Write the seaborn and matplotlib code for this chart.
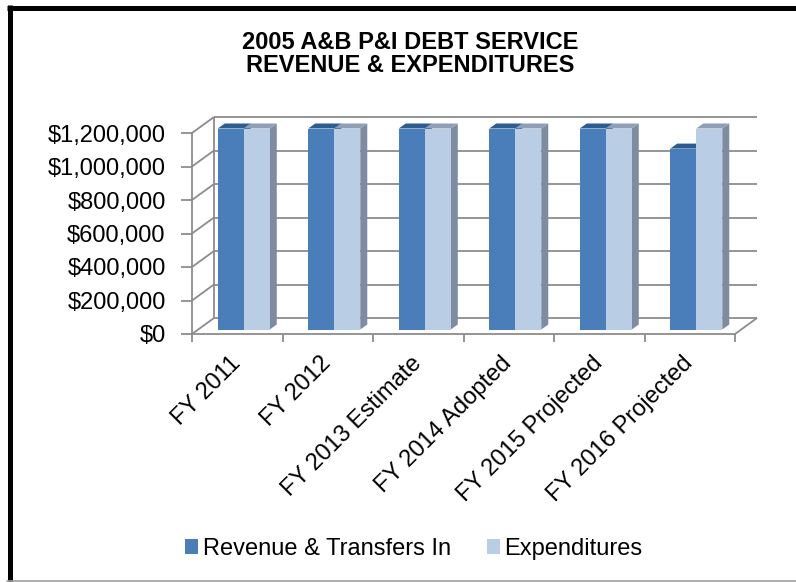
import matplotlib
matplotlib.use("Agg")
import matplotlib.pyplot as plt
import seaborn as sns
import pandas as pd
from matplotlib.patches import Polygon, Patch
from matplotlib.lines import Line2D
from matplotlib.transforms import ScaledTranslation
from matplotlib.ticker import FuncFormatter, FixedLocator

# ---- data -------------------------------------------------------------
years = ["FY 2011", "FY 2012", "FY 2013 Estimate", "FY 2014 Adopted",
         "FY 2015 Projected", "FY 2016 Projected"]
revenue = [1200000, 1200000, 1200000, 1200000, 1200000, 1080000]
expenditures = [1200000, 1200000, 1200000, 1200000, 1200000, 1200000]
series_names = ["Revenue & Transfers In", "Expenditures"]
y_ticks = [0, 200000, 400000, 600000, 800000, 1000000, 1200000]
title = "2005 A&B P&I DEBT SERVICE\nREVENUE & EXPENDITURES"

df = pd.DataFrame({
    "Year": years * 2,
    "Series": [series_names[0]] * len(years) + [series_names[1]] * len(years),
    "Value": revenue + expenditures,
})

# ---- style -------------------------------------------------------------
sns.set_theme(style="white")
plt.rcParams["font.family"] = ["Liberation Sans", "DejaVu Sans"]
plt.rcParams["text.color"] = "black"

front_colors = ["#4A7EBB", "#B9CDE5"]
top_colors = ["#2D5C93", "#8E9FB7"]
side_colors = ["#2F5A8A", "#7D8CA3"]
grid_color = "#8C8C8C"
FS = 17

DPI = 100
fig = plt.figure(figsize=(7.96, 5.82), dpi=DPI)
ax = fig.add_axes([192 / 796, 248 / 582, 543 / 796, 201 / 582])

sns.barplot(data=df, x="Year", y="Value", hue="Series", palette=front_colors,
            width=0.575, saturation=1, ax=ax, legend=False, zorder=3)

ax.set_xlim(-0.5, len(years) - 0.5)
ax.set_ylim(0, y_ticks[-1])
ax.set_xlabel("")
ax.set_ylabel("")
ax.set_facecolor("none")

# pixel -> data conversion for the pseudo-3D geometry
xpp = (len(years)) / ax.bbox.width
ypp = y_ticks[-1] / ax.bbox.height

# back-wall depth offset and bar depth (pixels)
wall_dx, wall_dy = 22, 16
bar_dx, bar_dy = 7, 5
shift = ScaledTranslation(6.5 / DPI, 4.5 / DPI, fig.dpi_scale_trans)
bar_trans = ax.transData + shift

x0, x1 = ax.get_xlim()
wdx, wdy = wall_dx * xpp, wall_dy * ypp

# back wall gridlines, left wall diagonals and floor edges
line_kw = dict(color=grid_color, lw=1.3, zorder=1, clip_on=False,
               solid_capstyle="butt")
for t in y_ticks:
    ax.plot([x0 + wdx, x1 + wdx], [t + wdy, t + wdy], **line_kw)
    ax.plot([x0, x0 + wdx], [t, t + wdy], **line_kw)
ax.plot([x0 + wdx, x0 + wdx], [wdy, y_ticks[-1] + wdy], **line_kw)
ax.plot([x1, x1 + wdx], [0, wdy], **line_kw)

# 3D faces on each bar
bdx, bdy = bar_dx * xpp, bar_dy * ypp
z = 3
for ci, cont in enumerate(ax.containers):
    for bar in cont:
        bx, bw, bh = bar.get_x(), bar.get_width(), bar.get_height()
        bar.set_transform(bar_trans)
        bar.set_clip_on(False)
        bar.set_edgecolor("none")
        bar.set_zorder(z + 2 * ci + 1)
        top = Polygon([(bx, bh), (bx + bw, bh), (bx + bw + bdx, bh + bdy),
                       (bx + bdx, bh + bdy)], closed=True,
                      facecolor=top_colors[ci], edgecolor="none",
                      transform=bar_trans, clip_on=False, zorder=z + 2 * ci + 1)
        side = Polygon([(bx + bw, 0), (bx + bw + bdx, bdy),
                        (bx + bw + bdx, bh + bdy), (bx + bw, bh)], closed=True,
                       facecolor=side_colors[ci], edgecolor="none",
                       transform=bar_trans, clip_on=False, zorder=z + 2 * ci)
        ax.add_patch(side)
        ax.add_patch(top)

# spines: front floor edge and front vertical axis
for s in ["top", "right"]:
    ax.spines[s].set_visible(False)
for s in ["left", "bottom"]:
    ax.spines[s].set_color(grid_color)
    ax.spines[s].set_linewidth(1.3)
    ax.spines[s].set_zorder(2)

# y axis
ax.yaxis.set_major_locator(FixedLocator(y_ticks))
ax.yaxis.set_major_formatter(FuncFormatter(lambda v, p: f"${v:,.0f}"))
ax.tick_params(axis="y", which="major", direction="out", length=8, width=1.3,
               color=grid_color, pad=11, labelsize=FS, labelcolor="black",
               left=True)

# x axis: tick marks on category borders, labels at category centres
ax.xaxis.set_major_locator(FixedLocator([i - 0.5 for i in range(len(years) + 1)]))
ax.xaxis.set_minor_locator(FixedLocator(list(range(len(years)))))
ax.set_xticklabels([""] * (len(years) + 1))
ax.set_xticklabels(years, minor=True, rotation=45, ha="right", va="center",
                   rotation_mode="anchor")
ax.tick_params(axis="x", which="major", direction="out", length=6, width=1.3,
               color=grid_color, bottom=True)
ax.tick_params(axis="x", which="minor", length=0, pad=19, labelsize=FS,
               labelcolor="black", bottom=True)

# title
fig.text(0.515, 0.907, title, ha="center", va="center", fontsize=FS,
         fontweight="bold", linespacing=1.0, color="black")

# legend
handles = [Patch(facecolor=c, edgecolor="none") for c in front_colors]
fig.legend(handles, series_names, loc="center", bbox_to_anchor=(0.52, 0.057),
           ncol=2, frameon=False, fontsize=FS, handlelength=0.55,
           handleheight=0.55, handletextpad=0.2, columnspacing=1.5,
           borderaxespad=0, borderpad=0, labelcolor="black")

# outer frame
fig.add_artist(Line2D([9.5 / 796, 9.5 / 796], [0, 1 - 5 / 582], color="black",
                      lw=3.6, transform=fig.transFigure, solid_capstyle="butt"))
fig.add_artist(Line2D([7.5 / 796, 1], [1 - 7.5 / 582, 1 - 7.5 / 582],
                      color="black", lw=3.6, transform=fig.transFigure,
                      solid_capstyle="butt"))
fig.add_artist(Line2D([7.5 / 796, 1], [1.2 / 582, 1.2 / 582], color="#A0A0A0",
                      lw=1.2, transform=fig.transFigure))

fig.savefig("out.png", dpi=DPI, facecolor="white")
